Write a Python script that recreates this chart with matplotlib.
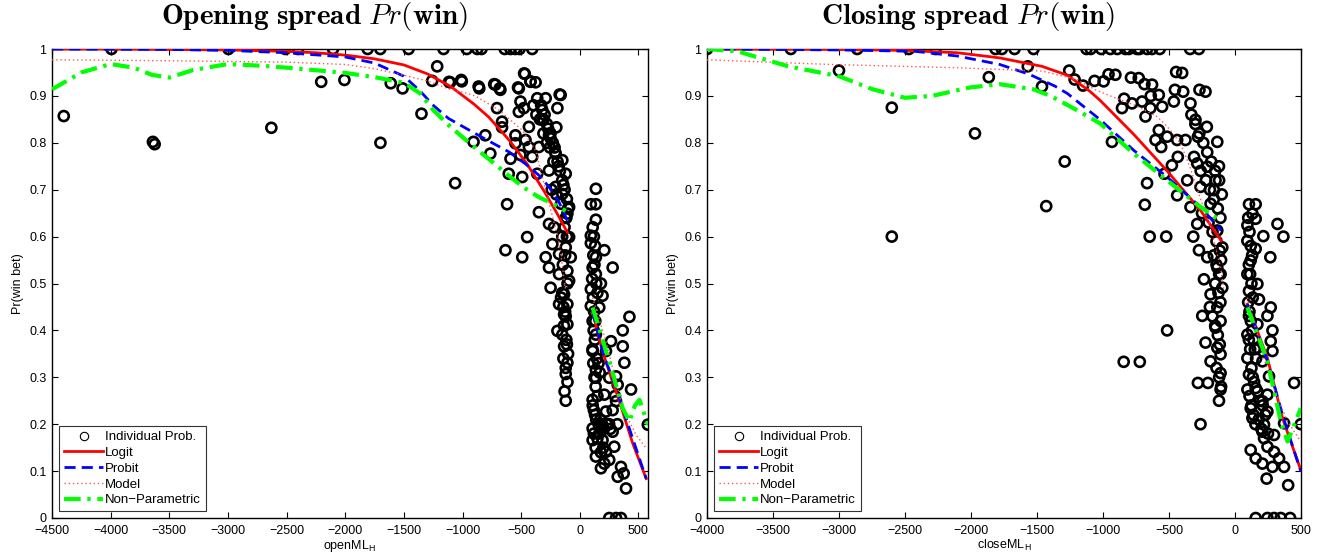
import matplotlib
matplotlib.use("Agg")
import matplotlib.pyplot as plt
from matplotlib.lines import Line2D

plt.rcParams['font.family'] = ['Liberation Sans', 'DejaVu Sans']
plt.rcParams['mathtext.fontset'] = 'cm'

# ---------------- Opening spread data ----------------
open_pts_x = [
    -3993, -2996, -2511, -2403, -2104, -1809, -1701, -1460, -1162, -964, -874, -838,
    -640, -591, -550, -514, -406,
    -4400, -3640, -3625, -2630, -1700, -1350, -2205, -2007, -1612, -1511, -1259, -1216,
    -1115, -1011, -863, -730, -683, -527, -475, -421, -172, -1063,
    -1106, -1006, -857, -720, -677, -520, -469, -420, -377, -506, -477, -520, -363, -291,
    -163, -320, -191, -706, -663, -663, -434, -320, -263, -200, -806, -906, -549, -549,
    -463, -434, -349, -763, -591, -506, -406, -206, -149, -606, -491, -363, -263, -120,
    -620, -349, -263, -449, -634, -491, -91, -106, -149, -206, -234, -177, -120, -249,
    -177, -134, -106, -177, -134, -191, -106, -149, -134, -106, -120, -120, -106, -91,
    -263, -291, -220, -91, -77,
    -300, -280, -250, -230, -210, -190, -170, -150, -130, -110, -240, -200, -160, -120,
    -330, -310, -270, -250, -215, -180, -140, -100, -150, -130, -110, -125, -145, -105,
    -160, -140, -120, -135, -115, -100, -150, -125, -110, -140, -120, -105, -130, -115,
    -395, -370, -340, -310, -280, -255, -225,
    137, 94, 137, 137, 94, 94, 209, 137, 280, 109, 137, 180, 94, 194, 94, 166, 423, 366,
    109, 266, 366, 137, 109, 223, 380, 137, 137, 309, 251, 323, 109, 209, 309, 437, 223,
    109, 194, 280, 109, 194, 294, 223, 137, 209, 251, 180, 351, 323, 394, 374, 580,
    251, 309, 351,
    110, 120, 130, 115, 125, 105, 140, 150, 112, 122, 132, 118, 128, 108, 145, 160, 170,
    115, 125, 135, 150, 110, 120, 130, 140, 160, 175, 190, 205, 230, 250, 120, 135, 150,
    165, 180, 200, 240, 260, 280, 300, 320,
]
open_pts_y = [
    1.0, 1.0, 1.0, 1.0, 1.0, 1.0, 1.0, 1.0, 1.0, 1.0, 1.0, 1.0,
    1.0, 1.0, 1.0, 1.0, 1.0,
    0.857, 0.802, 0.797, 0.832, 0.800, 0.862, 0.930, 0.934, 0.927, 0.916, 0.932, 0.963,
    0.930, 0.934, 0.920, 0.925, 0.916, 0.918, 0.948, 0.930, 0.903, 0.714,
    0.929, 0.931, 0.916, 0.924, 0.913, 0.916, 0.947, 0.931, 0.929, 0.888, 0.874, 0.866,
    0.895, 0.895, 0.902, 0.870, 0.874, 0.874, 0.845, 0.833, 0.834, 0.849, 0.816, 0.833,
    0.816, 0.802, 0.816, 0.799, 0.806, 0.791, 0.791, 0.777, 0.766, 0.774, 0.770, 0.777,
    0.763, 0.734, 0.727, 0.734, 0.741, 0.734, 0.669, 0.652, 0.627, 0.599, 0.571, 0.556,
    0.663, 0.649, 0.691, 0.706, 0.584, 0.563, 0.577, 0.491, 0.520, 0.477, 0.527, 0.456,
    0.434, 0.399, 0.413, 0.391, 0.366, 0.331, 0.307, 0.250, 0.456, 0.506, 0.534, 0.556,
    0.620, 0.599, 0.556,
    0.860, 0.840, 0.820, 0.800, 0.780, 0.760, 0.740, 0.720, 0.700, 0.680, 0.700, 0.690,
    0.670, 0.640, 0.880, 0.850, 0.830, 0.810, 0.790, 0.750, 0.710, 0.660, 0.600, 0.620,
    0.600, 0.560, 0.540, 0.500, 0.470, 0.450, 0.430, 0.410, 0.380, 0.350, 0.480, 0.440,
    0.370, 0.340, 0.320, 0.290, 0.270, 0.640,
    0.880, 0.860, 0.850, 0.820, 0.800, 0.790, 0.760,
    0.702, 0.669, 0.669, 0.636, 0.602, 0.586, 0.571, 0.556, 0.534, 0.534, 0.520, 0.500,
    0.488, 0.474, 0.452, 0.449, 0.429, 0.400, 0.420, 0.377, 0.366, 0.391, 0.356, 0.356,
    0.331, 0.316, 0.299, 0.302, 0.299, 0.284, 0.252, 0.263, 0.249, 0.274, 0.227, 0.191,
    0.195, 0.184, 0.166, 0.166, 0.152, 0.141, 0.131, 0.116, 0.124, 0.106, 0.109, 0.088,
    0.063, 0.095, 0.199, 0.0, 0.0, 0.0,
    0.620, 0.600, 0.580, 0.560, 0.540, 0.510, 0.500, 0.480, 0.470, 0.440, 0.420, 0.400,
    0.380, 0.360, 0.340, 0.330, 0.310, 0.330, 0.300, 0.280, 0.260, 0.240, 0.230, 0.220,
    0.210, 0.200, 0.210, 0.200, 0.190, 0.200, 0.200, 0.180, 0.150, 0.170, 0.180, 0.140,
    0.150, 0.200, 0.190, 0.230, 0.260, 0.200,
]

# fitted curves, opening spread (favourite side and underdog side)
open_logit_neg_x = [-4500, -4000, -3500, -3000, -2500, -2250, -2000, -1750, -1500, -1300,
                    -1100, -900, -777, -600, -450, -300, -200, -106]
open_logit_neg_y = [1.000, 1.000, 0.999, 0.998, 0.995, 0.992, 0.987, 0.979, 0.966, 0.947,
                    0.920, 0.882, 0.855, 0.805, 0.755, 0.695, 0.652, 0.609]
open_logit_pos_x = [109, 200, 337, 450, 566]
open_logit_pos_y = [0.438, 0.350, 0.249, 0.160, 0.084]

open_probit_neg_x = [-4500, -3500, -3000, -2500, -2000, -1750, -1500, -1360, -1250, -1120,
                     -950, -806, -600, -463, -350, -263, -180, -106]
open_probit_neg_y = [1.000, 0.999, 0.997, 0.992, 0.983, 0.970, 0.942, 0.910, 0.880, 0.852,
                     0.828, 0.808, 0.780, 0.755, 0.731, 0.706, 0.675, 0.634]
open_probit_pos_x = [109, 200, 309, 450, 566]
open_probit_pos_y = [0.441, 0.350, 0.277, 0.170, 0.084]

open_model_neg_x = [-4500, -3500, -2500, -2000, -1750, -1500, -1300, -1120, -1000, -892,
                    -691, -491, -377, -291, -230, -177, -120]
open_model_neg_y = [0.977, 0.975, 0.972, 0.967, 0.958, 0.944, 0.932, 0.915, 0.908, 0.900,
                    0.870, 0.827, 0.784, 0.699, 0.640, 0.590, 0.484]
open_model_pos_x = [109, 223, 366, 480, 566]
open_model_pos_y = [0.470, 0.377, 0.234, 0.177, 0.149]

open_np_neg_x = [-4500, -4250, -4000, -3800, -3650, -3500, -3300, -3000, -2700, -2438,
                 -2000, -1750, -1500, -1360, -1250, -1120, -920, -750, -606, -480, -349,
                 -230, -120]
open_np_neg_y = [0.914, 0.950, 0.968, 0.960, 0.945, 0.939, 0.955, 0.968, 0.964, 0.959,
                 0.949, 0.940, 0.928, 0.905, 0.870, 0.838, 0.795, 0.760, 0.730, 0.705, 0.684,
                 0.670, 0.655]
open_np_pos_x = [109, 251, 366, 423, 470, 509, 580]
open_np_pos_y = [0.449, 0.334, 0.234, 0.206, 0.240, 0.252, 0.199]

# ---------------- Closing spread data ----------------
close_pts_x = [
    -4000, -3365, -2862, -2471, -2269, -1814, -1766, -1670, -1526, -1125, -1093, -1013,
    -891, -804, -724, -628, -340, -944, -830, -742, -666, -570, -273,
    -3000, -1865, -1570, -1462, -1256, -1215, -1151, -1064, -958, -788, -686, -446, -455,
    -269, -638, -840, -2600, -1970, -1430, -1290, -2600,
    -995, -906, -729, -628, -577, -400, -223, -392, -856, -780, -704, -641, -678, -552,
    -463, -337, -299, -213, -577, -514, -602, -438, -375, -281, -134, -932, -559, -433,
    -478, -121, -534, -286, -210, -362, -147, -666, -438, -261, -159, -683, -337, -185,
    -286, -646, -521, -316, -273, -134, -96, -210, -134, -235, -109, -185, -134, -96,
    -248, -147, -109, -514, -223, -134, -185, -109, -843, -721, -281, -205, -109, -109,
    -121, -261,
    -330, -300, -270, -240, -210, -180, -150, -120, -100, -310, -260, -220, -190, -160,
    -130, -110, -250, -200, -170, -140, -115, -105, -160, -140, -120, -150, -125, -110,
    -190, -170, -150, -130, -115, -140, -120, -105,
    106, 157, 132, 94, 157, 322, 215, 367, 94, 157, 268, 119, 94, 170, 106, 182, 271,
    246, 106, 170, 284, 94, 271, 170, 284, 94, 208, 106, 258, 448, 157, 94, 246, 208,
    119, 246, 132, 220, 372, 499, 296, 208, 119, 157, 246, 296, 334, 208, 284, 372, 240,
    403, 157, 246, 296, 347, 418,
    100, 110, 120, 130, 105, 115, 125, 135, 100, 110, 120, 130, 140, 150, 160, 105,
    115, 125, 135, 145, 170, 190, 210, 230, 110, 125, 140, 155, 180, 200, 220, 250,
]
close_pts_y = [
    1.0, 1.0, 1.0, 1.0, 1.0, 1.0, 1.0, 1.0, 1.0, 1.0, 1.0, 1.0,
    1.0, 1.0, 1.0, 1.0, 1.0, 1.0, 1.0, 1.0, 1.0, 1.0, 1.0,
    0.954, 0.940, 0.963, 0.920, 0.954, 0.935, 0.922, 0.932, 0.946, 0.939, 0.925, 0.951,
    0.913, 0.913, 0.900, 0.894, 0.600, 0.820, 0.665, 0.760, 0.875,
    0.931, 0.945, 0.938, 0.924, 0.902, 0.949, 0.909, 0.909, 0.874, 0.884, 0.888, 0.874,
    0.856, 0.877, 0.888, 0.884, 0.849, 0.834, 0.827, 0.813, 0.806, 0.806, 0.806, 0.813,
    0.802, 0.802, 0.791, 0.770, 0.752, 0.750, 0.734, 0.756, 0.749, 0.720, 0.720, 0.714,
    0.688, 0.706, 0.699, 0.668, 0.663, 0.670, 0.627, 0.600, 0.600, 0.600, 0.571, 0.613,
    0.577, 0.556, 0.534, 0.509, 0.520, 0.477, 0.449, 0.491, 0.431, 0.406, 0.420, 0.400,
    0.374, 0.363, 0.334, 0.349, 0.333, 0.333, 0.288, 0.288, 0.309, 0.274, 0.250, 0.200,
    0.860, 0.840, 0.820, 0.800, 0.780, 0.760, 0.740, 0.720, 0.690, 0.770, 0.740, 0.720,
    0.700, 0.680, 0.660, 0.640, 0.650, 0.630, 0.610, 0.590, 0.570, 0.550, 0.560, 0.540,
    0.520, 0.500, 0.480, 0.460, 0.450, 0.430, 0.410, 0.390, 0.370, 0.320, 0.300, 0.280,
    0.669, 0.669, 0.649, 0.624, 0.638, 0.627, 0.601, 0.600, 0.591, 0.574, 0.556, 0.549,
    0.520, 0.499, 0.484, 0.466, 0.449, 0.431, 0.431, 0.413, 0.400, 0.391, 0.377, 0.363,
    0.356, 0.341, 0.334, 0.306, 0.302, 0.288, 0.277, 0.274, 0.263, 0.249, 0.234, 0.227,
    0.213, 0.199, 0.202, 0.200, 0.177, 0.184, 0.145, 0.127, 0.152, 0.141, 0.127, 0.116,
    0.109, 0.109, 0.084, 0.070, 0.0, 0.0, 0.0, 0.0, 0.0,
    0.640, 0.610, 0.580, 0.560, 0.540, 0.520, 0.500, 0.470, 0.460, 0.440, 0.420, 0.400,
    0.380, 0.360, 0.340, 0.380, 0.360, 0.320, 0.300, 0.290, 0.270, 0.250, 0.240, 0.220,
    0.260, 0.240, 0.220, 0.200, 0.210, 0.190, 0.170, 0.180,
]

close_logit_neg_x = [-4000, -3000, -2500, -2103, -1782, -1462, -1269, -1100, -1020, -767,
                     -514, -261, -104]
close_logit_neg_y = [1.000, 0.999, 0.997, 0.992, 0.981, 0.963, 0.944, 0.910, 0.890, 0.818,
                     0.740, 0.656, 0.591]
close_logit_pos_x = [94, 246, 360, 499]
close_logit_pos_y = [0.456, 0.341, 0.213, 0.102]

close_probit_neg_x = [-4000, -3000, -2423, -2103, -1782, -1558, -1365, -1269, -1020, -767,
                      -514, -261, -104]
close_probit_neg_y = [1.000, 0.998, 0.995, 0.985, 0.967, 0.946, 0.921, 0.905, 0.849, 0.784,
                      0.727, 0.663, 0.613]
close_probit_pos_x = [94, 246, 360, 499]
close_probit_pos_y = [0.456, 0.335, 0.220, 0.099]

close_model_neg_x = [-4000, -3064, -2103, -1462, -1200, -1050, -900, -767, -590, -514,
                     -413, -337, -261, -185, -109, -83]
close_model_neg_y = [0.977, 0.967, 0.960, 0.953, 0.935, 0.912, 0.895, 0.881, 0.856, 0.835,
                     0.799, 0.745, 0.680, 0.620, 0.534, 0.484]
close_model_pos_x = [94, 170, 271, 398, 499]
close_model_pos_y = [0.470, 0.391, 0.291, 0.206, 0.163]

close_np_neg_x = [-4000, -3769, -3385, -3000, -2744, -2500, -2295, -2007, -1782, -1526,
                  -1397, -1200, -1020, -767, -514, -261, -109]
close_np_neg_y = [1.000, 0.995, 0.963, 0.942, 0.914, 0.896, 0.900, 0.918, 0.925, 0.914,
                  0.900, 0.870, 0.841, 0.777, 0.720, 0.663, 0.634]
close_np_pos_x = [94, 246, 347, 398, 499]
close_np_pos_y = [0.449, 0.334, 0.206, 0.163, 0.234]

x_ticks_open = list(range(-4500, 501, 500))
x_ticks_close = list(range(-4000, 501, 500))
y_ticks = [0, 0.1, 0.2, 0.3, 0.4, 0.5, 0.6, 0.7, 0.8, 0.9, 1.0]
y_ticklabels = ['0', '0.1', '0.2', '0.3', '0.4', '0.5', '0.6', '0.7', '0.8', '0.9', '1']

LOGIT = dict(color='#ff0000', lw=2.0, ls='-')
PROBIT = dict(color='#0000ff', lw=2.0, ls=(0, (4, 2.2)))
MODEL = dict(color='#ff5555', lw=1.0, ls=(0, (1, 2)))
NONPAR = dict(color='#00ff00', lw=3.0, ls=(0, (4, 1.6, 0.8, 1.6)))


def draw_panel(ax, px, py, curves, xlim, xticks, title, xlabel):
    ax.scatter(px, py, s=52, facecolors='none', edgecolors='black', linewidths=1.9, zorder=2)
    for (nx, ny, qx, qy), style in curves:
        ax.plot(nx, ny, zorder=3, **style)
        ax.plot(qx, qy, zorder=3, **style)
    ax.set_xlim(*xlim)
    ax.set_ylim(0, 1)
    ax.set_xticks(xticks)
    ax.set_xticklabels([str(t).replace('-', '\u2212') for t in xticks])
    ax.set_yticks(y_ticks)
    ax.set_yticklabels(y_ticklabels)
    ax.tick_params(direction='in', top=True, right=True, length=4, width=0.8,
                   labelsize=9)
    ax.tick_params(axis='x', pad=5)
    ax.tick_params(axis='y', pad=4)
    for sp in ax.spines.values():
        sp.set_linewidth(1.0)
    ax.set_ylabel('Pr(win bet)', fontsize=9, labelpad=4)
    ax.set_xlabel(xlabel, fontsize=9, labelpad=1)
    ax.text(0.44, 1.035, title, transform=ax.transAxes, ha='center', va='bottom',
            fontsize=21)
    handles = [
        Line2D([], [], ls='none', marker='o', mfc='none', mec='black', ms=6, mew=0.8),
        Line2D([], [], **LOGIT),
        Line2D([], [], **PROBIT),
        Line2D([], [], **MODEL),
        Line2D([], [], **NONPAR),
    ]
    labels = ['Individual Prob.', 'Logit', 'Probit', 'Model', 'Non\u2212Parametric']
    leg = ax.legend(handles, labels, loc='lower left', bbox_to_anchor=(0.012, 0.015),
                    fontsize=9.5, frameon=True, fancybox=False, handlelength=3.0,
                    handletextpad=0.15, borderpad=0.35, labelspacing=0.27,
                    borderaxespad=0.0)
    leg.get_frame().set_edgecolor('black')
    leg.get_frame().set_linewidth(0.8)


fig = plt.figure(figsize=(13.24, 5.6), dpi=100)
ax1 = fig.add_axes([0.0393, 0.075, 0.450, 0.8375])
ax2 = fig.add_axes([0.534, 0.075, 0.4486, 0.8375])

draw_panel(ax1, open_pts_x, open_pts_y,
           [((open_logit_neg_x, open_logit_neg_y, open_logit_pos_x, open_logit_pos_y), LOGIT),
            ((open_probit_neg_x, open_probit_neg_y, open_probit_pos_x, open_probit_pos_y), PROBIT),
            ((open_model_neg_x, open_model_neg_y, open_model_pos_x, open_model_pos_y), MODEL),
            ((open_np_neg_x, open_np_neg_y, open_np_pos_x, open_np_pos_y), NONPAR)],
           (-4500, 580), x_ticks_open,
           r'$\mathbf{Opening\ spread}\ Pr(\mathbf{win})$', 'openML$_{\\mathregular{H}}$')

draw_panel(ax2, close_pts_x, close_pts_y,
           [((close_logit_neg_x, close_logit_neg_y, close_logit_pos_x, close_logit_pos_y), LOGIT),
            ((close_probit_neg_x, close_probit_neg_y, close_probit_pos_x, close_probit_pos_y), PROBIT),
            ((close_model_neg_x, close_model_neg_y, close_model_pos_x, close_model_pos_y), MODEL),
            ((close_np_neg_x, close_np_neg_y, close_np_pos_x, close_np_pos_y), NONPAR)],
           (-4000, 500), x_ticks_close,
           r'$\mathbf{Closing\ spread}\ Pr(\mathbf{win})$', 'closeML$_{\\mathregular{H}}$')

fig.savefig('out.png', dpi=100)
